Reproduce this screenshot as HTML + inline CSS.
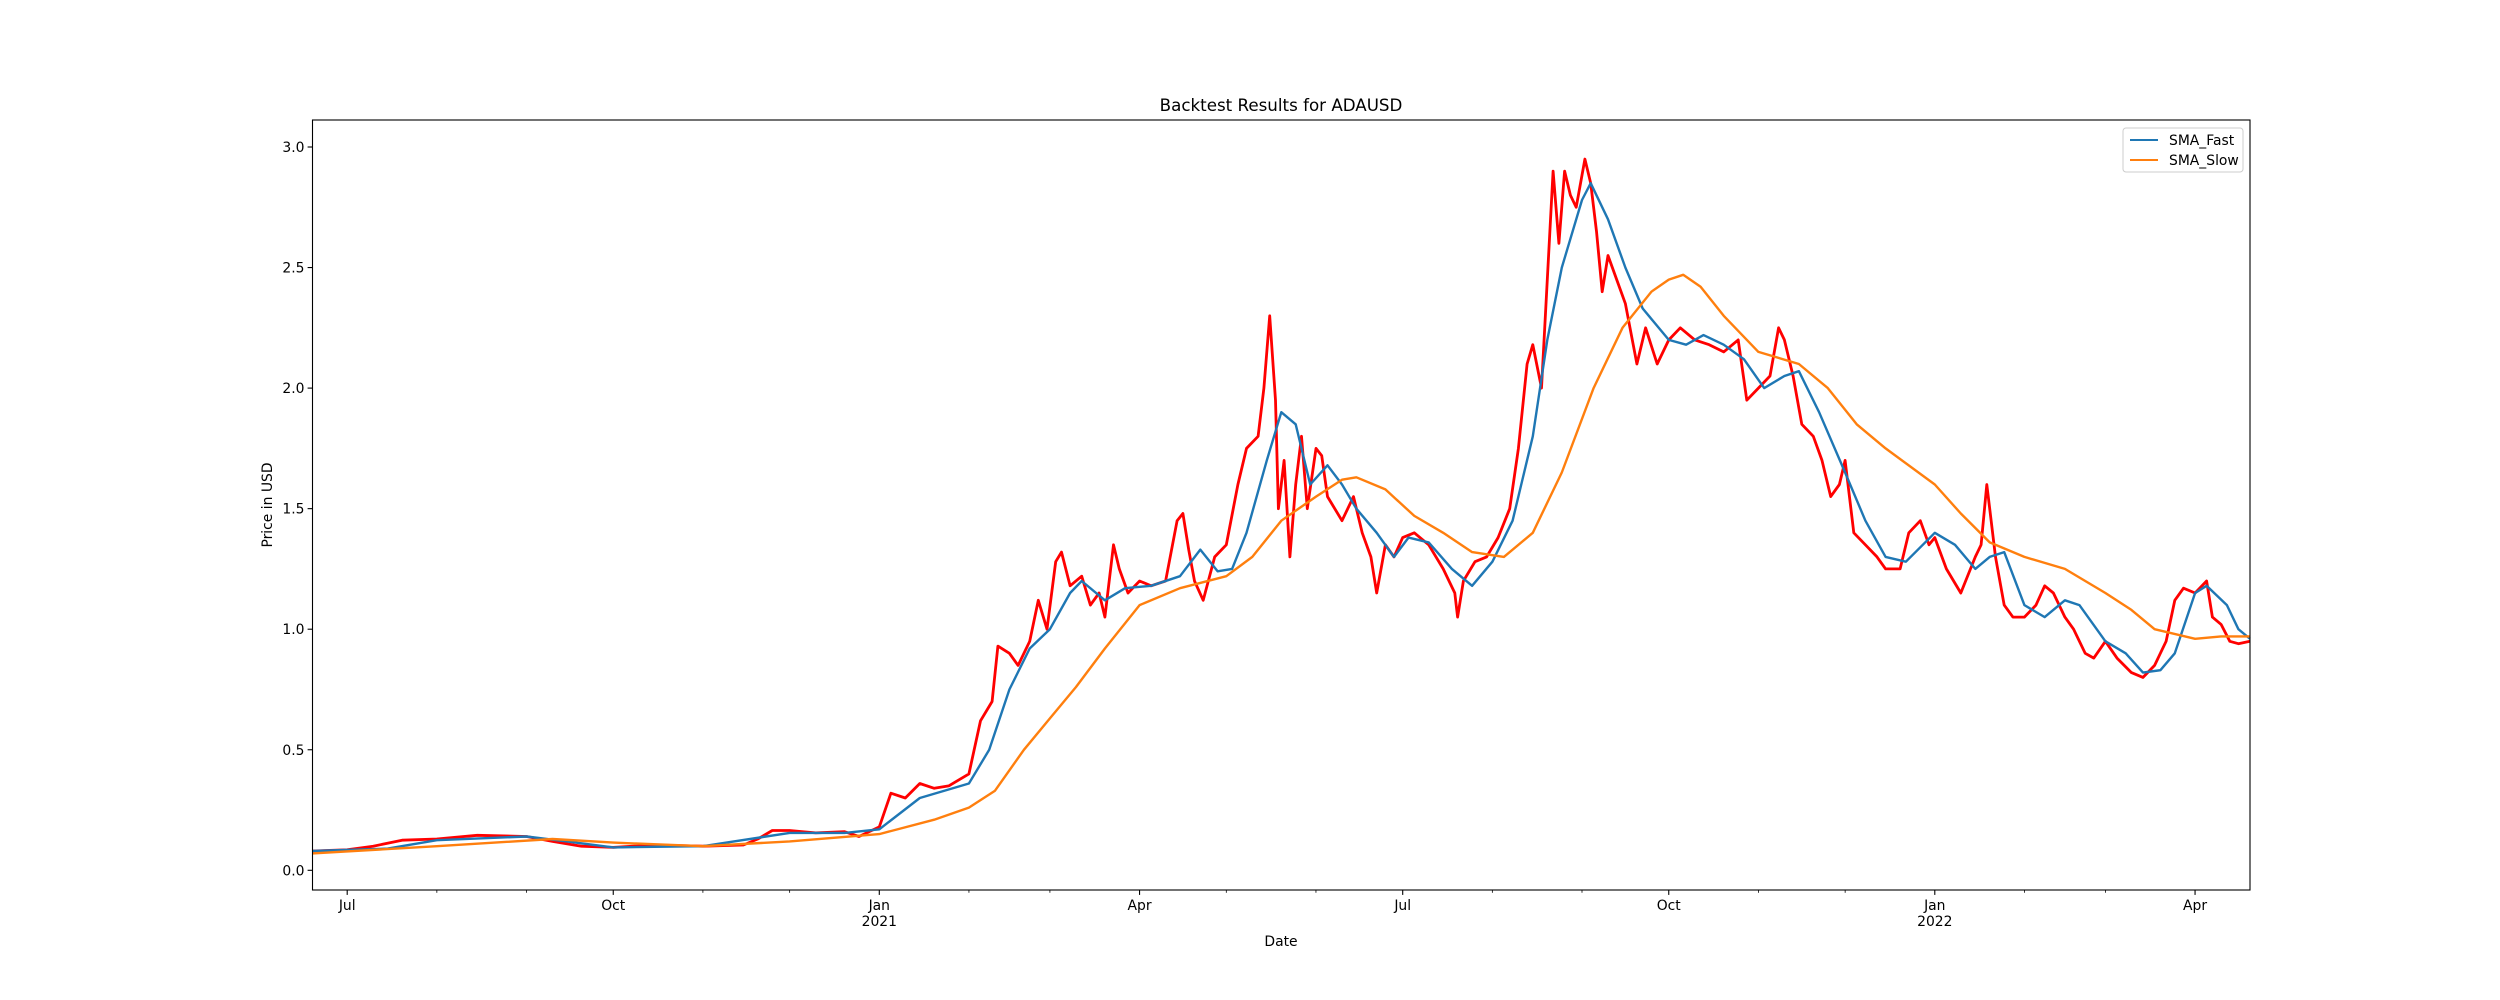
<!DOCTYPE html>
<html><head><meta charset="utf-8"><style>
html,body{margin:0;padding:0;background:#fff;}
svg{display:block;font-family:"DejaVu Sans","Liberation Sans",sans-serif;}
</style></head><body>
<svg id="chart" width="2500" height="1000" viewBox="0 0 2500 1000" xmlns="http://www.w3.org/2000/svg">
<rect x="0" y="0" width="2500" height="1000" fill="#fff"/>
<text x="1281" y="111" font-size="16.7" text-anchor="middle">Backtest Results for ADAUSD</text>
<text x="1281" y="946" font-size="13.9" text-anchor="middle">Date</text>
<text x="0" y="0" font-size="13.9" text-anchor="middle" transform="translate(272,505) rotate(-90)">Price in USD</text>
<g id="plot"></g>
<g id="legend">
<rect x="2123" y="128" width="120" height="44" rx="3" fill="#fff" fill-opacity="0.8" stroke="#ccc" stroke-width="1"/>
<line x1="2130" y1="140" x2="2158" y2="140" stroke="#1f77b4" stroke-width="2.1"/>
<text x="2169" y="145" font-size="13.9">SMA_Fast</text>
<line x1="2130" y1="160" x2="2158" y2="160" stroke="#ff7f0e" stroke-width="2.1"/>
<text x="2169" y="165" font-size="13.9">SMA_Slow</text>
</g>
</svg>
<script>
const priceDates = ["2020-06-19","2020-07-01","2020-07-10","2020-07-20","2020-08-01","2020-08-15","2020-09-01","2020-09-10","2020-09-20","2020-10-01","2020-10-15","2020-11-01","2020-11-15","2020-11-20","2020-11-25","2020-12-01","2020-12-10","2020-12-20","2020-12-25","2021-01-01","2021-01-05","2021-01-10","2021-01-15","2021-01-20","2021-01-25","2021-02-01","2021-02-05","2021-02-09","2021-02-11","2021-02-15","2021-02-18","2021-02-22","2021-02-25","2021-02-28","2021-03-03","2021-03-05","2021-03-08","2021-03-12","2021-03-15","2021-03-18","2021-03-20","2021-03-23","2021-03-25","2021-03-28","2021-04-01","2021-04-05","2021-04-10","2021-04-14","2021-04-16","2021-04-18","2021-04-20","2021-04-23","2021-04-27","2021-05-01","2021-05-05","2021-05-08","2021-05-12","2021-05-14","2021-05-16","2021-05-18","2021-05-19","2021-05-21","2021-05-23","2021-05-25","2021-05-27","2021-05-29","2021-06-01","2021-06-03","2021-06-05","2021-06-10","2021-06-14","2021-06-17","2021-06-20","2021-06-22","2021-06-25","2021-06-28","2021-07-01","2021-07-05","2021-07-10","2021-07-15","2021-07-19","2021-07-20","2021-07-22","2021-07-26","2021-07-30","2021-08-03","2021-08-07","2021-08-10","2021-08-13","2021-08-15","2021-08-18","2021-08-20","2021-08-22","2021-08-24","2021-08-26","2021-08-28","2021-08-30","2021-09-02","2021-09-04","2021-09-06","2021-09-08","2021-09-10","2021-09-13","2021-09-16","2021-09-20","2021-09-23","2021-09-27","2021-10-01","2021-10-05","2021-10-10","2021-10-15","2021-10-20","2021-10-25","2021-10-28","2021-11-01","2021-11-05","2021-11-08","2021-11-10","2021-11-13","2021-11-16","2021-11-20","2021-11-23","2021-11-26","2021-11-29","2021-12-01","2021-12-04","2021-12-08","2021-12-12","2021-12-15","2021-12-20","2021-12-23","2021-12-27","2021-12-30","2022-01-01","2022-01-05","2022-01-10","2022-01-15","2022-01-17","2022-01-19","2022-01-22","2022-01-25","2022-01-28","2022-02-01","2022-02-05","2022-02-08","2022-02-11","2022-02-15","2022-02-18","2022-02-22","2022-02-25","2022-03-01","2022-03-05","2022-03-10","2022-03-14","2022-03-18","2022-03-22","2022-03-25","2022-03-28","2022-04-01","2022-04-05","2022-04-07","2022-04-10","2022-04-13","2022-04-16","2022-04-20"];
const priceValues = [0.08,0.085,0.10,0.125,0.13,0.145,0.14,0.12,0.10,0.095,0.105,0.10,0.105,0.13,0.165,0.165,0.155,0.16,0.14,0.18,0.32,0.30,0.36,0.34,0.35,0.40,0.62,0.70,0.93,0.90,0.85,0.95,1.12,1.0,1.28,1.32,1.18,1.22,1.10,1.15,1.05,1.35,1.25,1.15,1.20,1.18,1.20,1.45,1.48,1.33,1.20,1.12,1.30,1.35,1.60,1.75,1.80,2.0,2.30,1.95,1.50,1.70,1.30,1.60,1.80,1.50,1.75,1.72,1.55,1.45,1.55,1.40,1.30,1.15,1.35,1.30,1.38,1.40,1.35,1.25,1.15,1.05,1.20,1.28,1.30,1.38,1.50,1.75,2.10,2.18,2.00,2.45,2.90,2.60,2.90,2.80,2.75,2.95,2.85,2.65,2.40,2.55,2.45,2.35,2.10,2.25,2.10,2.20,2.25,2.20,2.18,2.15,2.20,1.95,2.00,2.05,2.25,2.20,2.05,1.85,1.80,1.70,1.55,1.60,1.70,1.40,1.35,1.30,1.25,1.25,1.40,1.45,1.35,1.38,1.25,1.15,1.30,1.35,1.60,1.30,1.10,1.05,1.05,1.10,1.18,1.15,1.05,1.00,0.90,0.88,0.95,0.88,0.82,0.80,0.85,0.95,1.12,1.17,1.15,1.20,1.05,1.02,0.95,0.94,0.95];
const fastDates = ["2020-06-19","2020-07-15","2020-08-01","2020-09-01","2020-09-15","2020-10-01","2020-11-01","2020-12-01","2020-12-20","2021-01-01","2021-01-15","2021-02-01","2021-02-08","2021-02-15","2021-02-22","2021-03-01","2021-03-08","2021-03-12","2021-03-20","2021-03-27","2021-04-05","2021-04-15","2021-04-22","2021-04-28","2021-05-03","2021-05-08","2021-05-15","2021-05-20","2021-05-25","2021-05-30","2021-06-05","2021-06-10","2021-06-15","2021-06-22","2021-06-28","2021-07-03","2021-07-10","2021-07-18","2021-07-25","2021-08-01","2021-08-08","2021-08-15","2021-08-20","2021-08-25","2021-09-01","2021-09-04","2021-09-10","2021-09-16","2021-09-22","2021-10-01","2021-10-07","2021-10-13","2021-10-20","2021-10-27","2021-11-03","2021-11-10","2021-11-15","2021-11-22","2021-12-01","2021-12-08","2021-12-15","2021-12-22","2022-01-01","2022-01-08","2022-01-15","2022-01-20","2022-01-25","2022-02-01","2022-02-08","2022-02-15","2022-02-20","2022-03-01","2022-03-08","2022-03-14","2022-03-20","2022-03-25","2022-04-01","2022-04-05","2022-04-12","2022-04-16","2022-04-20"];
const fastValues = [0.08,0.09,0.125,0.14,0.12,0.095,0.10,0.155,0.155,0.17,0.30,0.36,0.50,0.75,0.92,1.00,1.15,1.20,1.12,1.17,1.18,1.22,1.33,1.24,1.25,1.40,1.70,1.90,1.85,1.60,1.68,1.60,1.50,1.40,1.30,1.38,1.36,1.25,1.18,1.28,1.45,1.80,2.20,2.50,2.78,2.85,2.70,2.50,2.33,2.20,2.18,2.22,2.18,2.12,2.00,2.05,2.07,1.90,1.65,1.45,1.30,1.28,1.40,1.35,1.25,1.30,1.32,1.10,1.05,1.12,1.10,0.95,0.90,0.82,0.83,0.90,1.15,1.18,1.10,1.00,0.96];
const slowDates = ["2020-06-19","2020-08-01","2020-09-10","2020-10-01","2020-11-01","2020-12-01","2021-01-01","2021-01-20","2021-02-01","2021-02-10","2021-02-20","2021-03-01","2021-03-10","2021-03-20","2021-04-01","2021-04-15","2021-05-01","2021-05-10","2021-05-20","2021-06-01","2021-06-10","2021-06-15","2021-06-25","2021-07-05","2021-07-15","2021-07-25","2021-08-05","2021-08-15","2021-08-25","2021-09-05","2021-09-15","2021-09-25","2021-10-01","2021-10-06","2021-10-12","2021-10-20","2021-11-01","2021-11-15","2021-11-25","2021-12-05","2021-12-15","2022-01-01","2022-01-10","2022-01-20","2022-02-01","2022-02-15","2022-03-01","2022-03-10","2022-03-18","2022-04-01","2022-04-10","2022-04-20"];
const slowValues = [0.07,0.10,0.13,0.115,0.10,0.12,0.15,0.21,0.26,0.33,0.50,0.63,0.76,0.92,1.10,1.17,1.22,1.30,1.45,1.55,1.62,1.63,1.58,1.47,1.40,1.32,1.30,1.40,1.65,2.00,2.25,2.40,2.45,2.47,2.42,2.30,2.15,2.10,2.00,1.85,1.75,1.60,1.48,1.36,1.30,1.25,1.15,1.08,1.00,0.96,0.97,0.97];
const yTicks = [0.0,0.5,1.0,1.5,2.0,2.5,3.0];
const yTickLabels = ["0.0","0.5","1.0","1.5","2.0","2.5","3.0"];
const majorTickDates = ["2020-07-01","2020-10-01","2021-01-01","2021-04-01","2021-07-01","2021-10-01","2022-01-01","2022-04-01"];
const majorTickLabels = ["Jul","Oct","Jan","Apr","Jul","Oct","Jan","Apr"];
const majorTickYears = ["","","2021","","","","2022",""];

const NS = "http://www.w3.org/2000/svg";
const L = 312.5, R = 2250, T = 120, B = 890;
const t0 = Date.UTC(2020,5,19), t1 = Date.UTC(2022,3,20);
const yMin = -0.0817, yMax = 3.112;
function d2ms(s){const p=s.split("-");return Date.UTC(+p[0],+p[1]-1,+p[2]);}
function xScale(s){return L + (d2ms(s)-t0)/(t1-t0)*(R-L);}
function yScale(v){return B - (v-yMin)/(yMax-yMin)*(B-T);}
const plot = document.getElementById("plot");
function mk(tag, attrs){const e=document.createElementNS(NS,tag);for(const k in attrs)e.setAttribute(k,attrs[k]);return e;}

function line(dates, vals, color, w, name){
  const d = dates.map((s,i)=>(i?"L":"M")+xScale(s).toFixed(1)+","+yScale(vals[i]).toFixed(1)).join(" ");
  const p = mk("path",{d:d,fill:"none",stroke:color,"stroke-width":w,"stroke-linejoin":"round"});
  
  
  plot.appendChild(p);
}
line(priceDates, priceValues, "#ff0000", 2.8, "price-line");
line(fastDates, fastValues, "#1f77b4", 2.4, "sma-fast-line");
line(slowDates, slowValues, "#ff7f0e", 2.4, "sma-slow-line");

const frame = mk("rect",{x:L,y:T,width:R-L,height:B-T,fill:"none",stroke:"#000","stroke-width":1.1});


plot.appendChild(frame);

yTicks.forEach((v,i)=>{
  const y=yScale(v);
  const tk=mk("line",{x1:L-4.9,x2:L,y1:y,y2:y,stroke:"#000","stroke-width":1.1});
  
  
  plot.appendChild(tk);
  const tx=mk("text",{x:L-8,y:y+5,"font-size":13.9,"text-anchor":"end"});
  tx.textContent=yTickLabels[i];
  
  
  plot.appendChild(tx);
});

for(let y=2020;y<=2022;y++){for(let m=0;m<12;m++){
  const ms=Date.UTC(y,m,1); if(ms<t0||ms>t1) continue;
  if(m%3===0) continue;
  const x=L+(ms-t0)/(t1-t0)*(R-L);
  const tk=mk("line",{x1:x,x2:x,y1:B,y2:B+2.8,stroke:"#000","stroke-width":0.8});
  
  
  plot.appendChild(tk);
}}
majorTickDates.forEach((s,i)=>{
  const x=xScale(s);
  const tk=mk("line",{x1:x,x2:x,y1:B,y2:B+4.9,stroke:"#000","stroke-width":1.1});
  
  
  plot.appendChild(tk);
  const tx=mk("text",{x:x,y:B+20,"font-size":13.9,"text-anchor":"middle"});
  tx.textContent=majorTickLabels[i];
  
  
  plot.appendChild(tx);
  if(majorTickYears[i]){
    const ty=mk("text",{x:x,y:B+36,"font-size":13.9,"text-anchor":"middle"});
    ty.textContent=majorTickYears[i];
    
    
    plot.appendChild(ty);
  }
});
</script>
</body></html>
